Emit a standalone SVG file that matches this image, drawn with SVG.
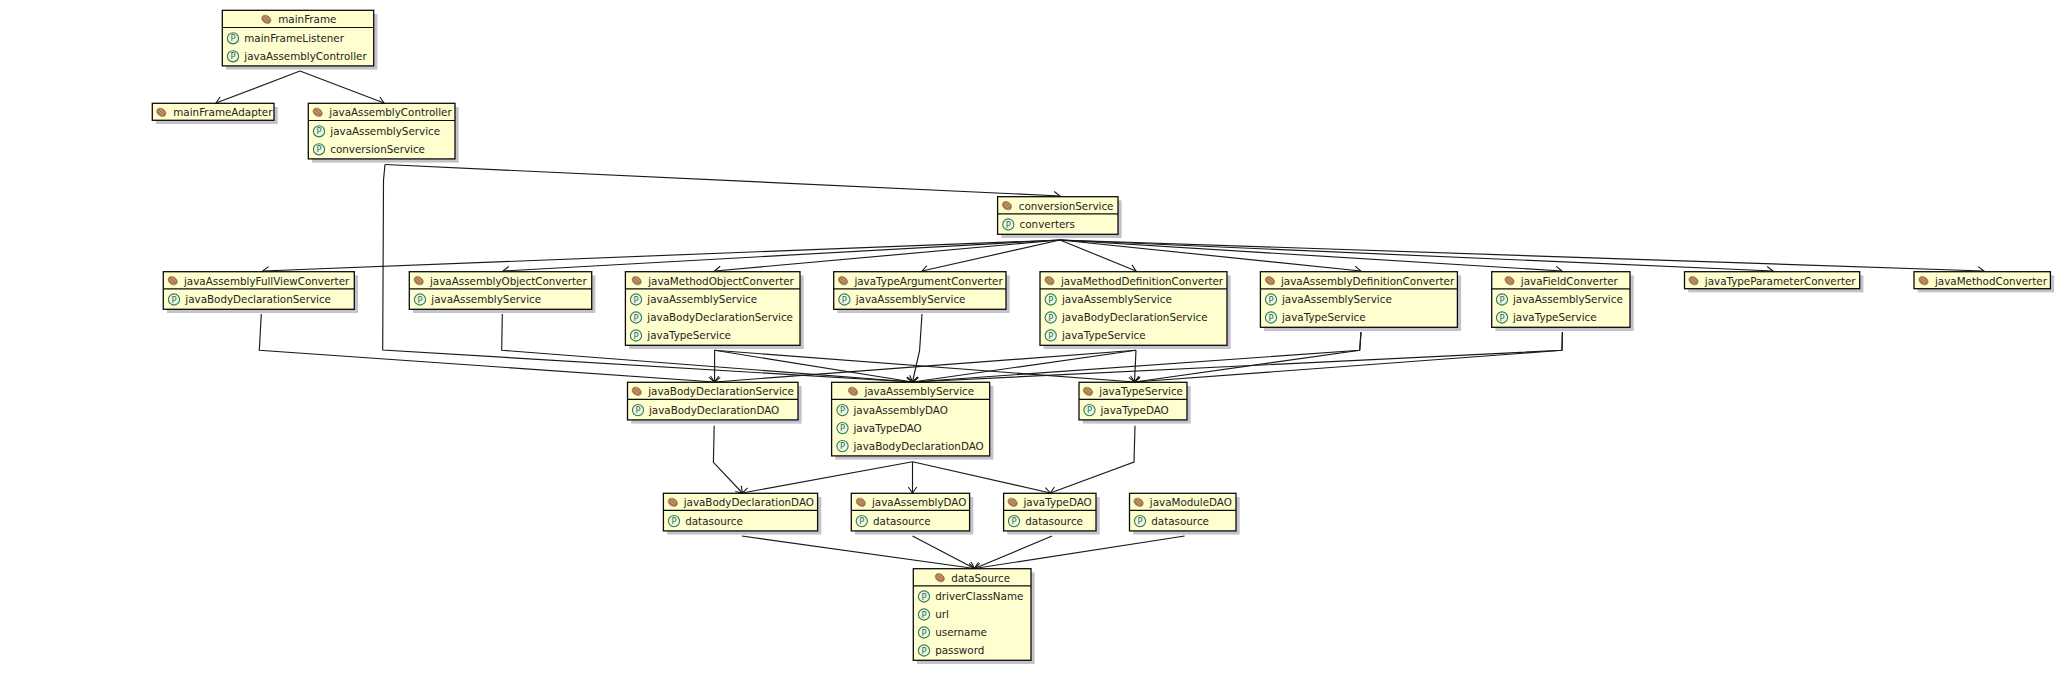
<svg xmlns="http://www.w3.org/2000/svg" width="2065" height="675" viewBox="0 0 2065 675">
<style>
text{font-family:"DejaVu Sans","Liberation Sans",sans-serif;font-size:10.35px;fill:#222}
.s{fill:#c4c2cb;stroke:none}
.b{fill:#fefece;stroke:#0c0c0c;stroke-width:1.3}
.h{stroke:#0c0c0c;stroke-width:1.2}
.c path{fill:none;stroke:#1a1a1a;stroke-width:1.15;marker-end:url(#a)}
.pt{font-size:8.4px;fill:#1f6f55}
</style>
<defs>
<marker id="a" markerUnits="userSpaceOnUse" markerWidth="14" markerHeight="14" refX="7" refY="7" orient="auto" overflow="visible"><path d="M1 2.8 L7 7 L1 11.2" fill="none" stroke="#1a1a1a" stroke-width="1.1"/></marker>
<g id="bn"><ellipse rx="5" ry="3.7" transform="rotate(35)" fill="#a9774c" stroke="#8e603a" stroke-width=".5"/><path d="M-3.2 -1.7L1.6 2.6M-1.4 -3.2L3.2 .9" stroke="#dcb892" stroke-width=".8" fill="none"/></g>
<g id="pi"><circle r="5.6" fill="#f2f6dc" stroke="#2a7a60" stroke-width="1.1"/><text class="pt" x="0" y="3" text-anchor="middle">P</text></g>
</defs>
<g id="connectors" class="c">
<path d="M300 71L216 103"/>
<path d="M300 71L384 103"/>
<path d="M385 164.5L1060 196"/>
<path d="M385 164.5L383.5 180L382.7 350L912.5 382"/>
<path d="M1060 240L262.7 271"/>
<path d="M1060 240L503 271"/>
<path d="M1060 240L714.6 271"/>
<path d="M1060 240L922 271"/>
<path d="M1060 240L1136 271"/>
<path d="M1060 240L1360.7 271"/>
<path d="M1060 240L1562 271"/>
<path d="M1060 240L1773 271"/>
<path d="M1060 240L1984 271"/>
<path d="M261.3 314L259.3 350.3L714.6 382"/>
<path d="M502.3 314L501.7 350.3L912.5 382"/>
<path d="M714.6 350.3L714.6 382"/>
<path d="M714.6 350.3L912.5 382"/>
<path d="M714.6 350.3L1134.5 382"/>
<path d="M922 314L919.6 350.3L912.5 382"/>
<path d="M1136 350.3L714.6 382"/>
<path d="M1136 350.3L912.5 382"/>
<path d="M1136 350.3L1134.5 382"/>
<path d="M1361 332L1359.7 350.3L912.5 382"/>
<path d="M1361 332L1359.7 350.3L1134.5 382"/>
<path d="M1562.4 332L1562 350.3L912.5 382"/>
<path d="M1562.4 332L1562 350.3L1134.5 382"/>
<path d="M714.2 425.7L713.4 462.3L742.4 493"/>
<path d="M912.5 461.7L742.4 493"/>
<path d="M912.5 461.7L912.5 493"/>
<path d="M912.5 461.7L1050.3 493"/>
<path d="M1135 425.7L1134 462L1050.3 493"/>
<path d="M741.8 536L974.5 568.5"/>
<path d="M912.5 536L974.5 568.5"/>
<path d="M1052 536L974.5 568.5"/>
<path d="M1184.6 536L974.5 568.5"/>
</g>
<g id="mainFrame"><rect class="s" x="226" y="14" width="151.4" height="55.6"/><rect class="b" x="222.3" y="10.3" width="151.4" height="55.6"/><line class="h" x1="222.3" y1="27.5" x2="373.7" y2="27.5"/><use href="#bn" x="266.3" y="19.3"/><text x="278.3" y="23.4">mainFrame</text><use href="#pi" x="233" y="38.3"/><text x="244.3" y="42.2">mainFrameListener</text><use href="#pi" x="233" y="56.3"/><text x="244.3" y="60.2">javaAssemblyController</text></g>
<g id="mainFrameAdapter"><rect class="s" x="156" y="107" width="121.7" height="17"/><rect class="b" x="152.3" y="103.3" width="121.7" height="17"/><use href="#bn" x="161.3" y="112.3"/><text x="173.3" y="116.3">mainFrameAdapter</text></g>
<g id="javaAssemblyController"><rect class="s" x="312" y="107" width="146.7" height="55.6"/><rect class="b" x="308.3" y="103.3" width="146.7" height="55.6"/><line class="h" x1="308.3" y1="120.5" x2="455" y2="120.5"/><use href="#bn" x="317.7" y="112.3"/><text x="329.3" y="116.3">javaAssemblyController</text><use href="#pi" x="319" y="131.3"/><text x="330.3" y="135.2">javaAssemblyService</text><use href="#pi" x="319" y="149.3"/><text x="330.3" y="153.2">conversionService</text></g>
<g id="conversionService"><rect class="s" x="1001.3" y="200.4" width="120.4" height="37.6"/><rect class="b" x="997.6" y="196.7" width="120.4" height="37.6"/><line class="h" x1="997.6" y1="213.8" x2="1118" y2="213.8"/><use href="#bn" x="1007" y="205.7"/><text x="1018.8" y="209.8">conversionService</text><use href="#pi" x="1008.3" y="224.5"/><text x="1019.6" y="228.4">converters</text></g>
<g id="javaAssemblyFullViewConverter"><rect class="s" x="167" y="275.4" width="191" height="37.6"/><rect class="b" x="163.3" y="271.7" width="191" height="37.6"/><line class="h" x1="163.3" y1="288.8" x2="354.3" y2="288.8"/><use href="#bn" x="172.7" y="280.7"/><text x="184" y="284.8">javaAssemblyFullViewConverter</text><use href="#pi" x="174" y="299.5"/><text x="185.3" y="303.4">javaBodyDeclarationService</text></g>
<g id="javaAssemblyObjectConverter"><rect class="s" x="413" y="275.4" width="182.4" height="37.6"/><rect class="b" x="409.3" y="271.7" width="182.4" height="37.6"/><line class="h" x1="409.3" y1="288.8" x2="591.7" y2="288.8"/><use href="#bn" x="418.7" y="280.7"/><text x="430" y="284.8">javaAssemblyObjectConverter</text><use href="#pi" x="420" y="299.5"/><text x="431.3" y="303.4">javaAssemblyService</text></g>
<g id="javaMethodObjectConverter"><rect class="s" x="629.1" y="275.4" width="174.6" height="73.6"/><rect class="b" x="625.4" y="271.7" width="174.6" height="73.6"/><line class="h" x1="625.4" y1="288.8" x2="800" y2="288.8"/><use href="#bn" x="636.7" y="280.7"/><text x="648.2" y="284.8">javaMethodObjectConverter</text><use href="#pi" x="636" y="299.5"/><text x="647.3" y="303.4">javaAssemblyService</text><use href="#pi" x="636" y="317.5"/><text x="647.3" y="321.4">javaBodyDeclarationService</text><use href="#pi" x="636" y="335.5"/><text x="647.3" y="339.4">javaTypeService</text></g>
<g id="javaTypeArgumentConverter"><rect class="s" x="837.4" y="275.4" width="172.3" height="37.6"/><rect class="b" x="833.7" y="271.7" width="172.3" height="37.6"/><line class="h" x1="833.7" y1="288.8" x2="1006" y2="288.8"/><use href="#bn" x="843" y="280.7"/><text x="854.4" y="284.8">javaTypeArgumentConverter</text><use href="#pi" x="844.4" y="299.5"/><text x="855.7" y="303.4">javaAssemblyService</text></g>
<g id="javaMethodDefinitionConverter"><rect class="s" x="1043.7" y="275.4" width="187" height="73.6"/><rect class="b" x="1040" y="271.7" width="187" height="73.6"/><line class="h" x1="1040" y1="288.8" x2="1227" y2="288.8"/><use href="#bn" x="1049.5" y="280.7"/><text x="1061" y="284.8">javaMethodDefinitionConverter</text><use href="#pi" x="1050.7" y="299.5"/><text x="1062" y="303.4">javaAssemblyService</text><use href="#pi" x="1050.7" y="317.5"/><text x="1062" y="321.4">javaBodyDeclarationService</text><use href="#pi" x="1050.7" y="335.5"/><text x="1062" y="339.4">javaTypeService</text></g>
<g id="javaAssemblyDefinitionConverter"><rect class="s" x="1264.1" y="275.4" width="197" height="55.6"/><rect class="b" x="1260.4" y="271.7" width="197" height="55.6"/><line class="h" x1="1260.4" y1="288.8" x2="1457.4" y2="288.8"/><use href="#bn" x="1270" y="280.7"/><text x="1281" y="284.8">javaAssemblyDefinitionConverter</text><use href="#pi" x="1271" y="299.5"/><text x="1282" y="303.4">javaAssemblyService</text><use href="#pi" x="1271" y="317.5"/><text x="1282" y="321.4">javaTypeService</text></g>
<g id="javaFieldConverter"><rect class="s" x="1495.4" y="275.4" width="138.3" height="55.6"/><rect class="b" x="1491.7" y="271.7" width="138.3" height="55.6"/><line class="h" x1="1491.7" y1="288.8" x2="1630" y2="288.8"/><use href="#bn" x="1509.5" y="280.7"/><text x="1520.8" y="284.8">javaFieldConverter</text><use href="#pi" x="1502" y="299.5"/><text x="1513" y="303.4">javaAssemblyService</text><use href="#pi" x="1502" y="317.5"/><text x="1513" y="321.4">javaTypeService</text></g>
<g id="javaTypeParameterConverter"><rect class="s" x="1688.2" y="275.4" width="175.2" height="17"/><rect class="b" x="1684.5" y="271.7" width="175.2" height="17"/><use href="#bn" x="1693.5" y="280.7"/><text x="1704.8" y="284.8">javaTypeParameterConverter</text></g>
<g id="javaMethodConverter"><rect class="s" x="1917.7" y="275.4" width="136.4" height="17"/><rect class="b" x="1914" y="271.7" width="136.4" height="17"/><use href="#bn" x="1923.5" y="280.7"/><text x="1935" y="284.8">javaMethodConverter</text></g>
<g id="javaBodyDeclarationService"><rect class="s" x="631.2" y="386" width="170.5" height="37.6"/><rect class="b" x="627.5" y="382.3" width="170.5" height="37.6"/><line class="h" x1="627.5" y1="399.4" x2="798" y2="399.4"/><use href="#bn" x="636.7" y="391.3"/><text x="648.2" y="395.4">javaBodyDeclarationService</text><use href="#pi" x="638" y="410.1"/><text x="649" y="414">javaBodyDeclarationDAO</text></g>
<g id="javaAssemblyService"><rect class="s" x="835.3" y="386" width="158.1" height="73.6"/><rect class="b" x="831.6" y="382.3" width="158.1" height="73.6"/><line class="h" x1="831.6" y1="399.4" x2="989.7" y2="399.4"/><use href="#bn" x="853" y="391.3"/><text x="864.4" y="395.4">javaAssemblyService</text><use href="#pi" x="842.5" y="410.1"/><text x="853.5" y="414">javaAssemblyDAO</text><use href="#pi" x="842.5" y="428.1"/><text x="853.5" y="432">javaTypeDAO</text><use href="#pi" x="842.5" y="446.1"/><text x="853.5" y="450">javaBodyDeclarationDAO</text></g>
<g id="javaTypeService"><rect class="s" x="1082.7" y="386" width="108" height="37.6"/><rect class="b" x="1079" y="382.3" width="108" height="37.6"/><line class="h" x1="1079" y1="399.4" x2="1187" y2="399.4"/><use href="#bn" x="1088" y="391.3"/><text x="1099.3" y="395.4">javaTypeService</text><use href="#pi" x="1089.5" y="410.1"/><text x="1100.5" y="414">javaTypeDAO</text></g>
<g id="javaBodyDeclarationDAO"><rect class="s" x="667.1" y="497" width="154.2" height="37.6"/><rect class="b" x="663.4" y="493.3" width="154.2" height="37.6"/><line class="h" x1="663.4" y1="510.4" x2="817.6" y2="510.4"/><use href="#bn" x="672.8" y="502.3"/><text x="683.7" y="506.4">javaBodyDeclarationDAO</text><use href="#pi" x="674" y="521.1"/><text x="685.2" y="525">datasource</text></g>
<g id="javaAssemblyDAO"><rect class="s" x="855" y="497" width="118.3" height="37.6"/><rect class="b" x="851.3" y="493.3" width="118.3" height="37.6"/><line class="h" x1="851.3" y1="510.4" x2="969.6" y2="510.4"/><use href="#bn" x="860.8" y="502.3"/><text x="872" y="506.4">javaAssemblyDAO</text><use href="#pi" x="861.8" y="521.1"/><text x="873" y="525">datasource</text></g>
<g id="javaTypeDAO"><rect class="s" x="1007.3" y="497" width="92.4" height="37.6"/><rect class="b" x="1003.6" y="493.3" width="92.4" height="37.6"/><line class="h" x1="1003.6" y1="510.4" x2="1096" y2="510.4"/><use href="#bn" x="1012.6" y="502.3"/><text x="1023.5" y="506.4">javaTypeDAO</text><use href="#pi" x="1014" y="521.1"/><text x="1025.3" y="525">datasource</text></g>
<g id="javaModuleDAO"><rect class="s" x="1133.2" y="497" width="106.5" height="37.6"/><rect class="b" x="1129.5" y="493.3" width="106.5" height="37.6"/><line class="h" x1="1129.5" y1="510.4" x2="1236" y2="510.4"/><use href="#bn" x="1138.6" y="502.3"/><text x="1149.8" y="506.4">javaModuleDAO</text><use href="#pi" x="1140" y="521.1"/><text x="1151.3" y="525">datasource</text></g>
<g id="dataSource"><rect class="s" x="917" y="572.4" width="117.7" height="91.6"/><rect class="b" x="913.3" y="568.7" width="117.7" height="91.6"/><line class="h" x1="913.3" y1="585.8" x2="1031" y2="585.8"/><use href="#bn" x="939.8" y="577.7"/><text x="951.2" y="581.8">dataSource</text><use href="#pi" x="924" y="596.5"/><text x="935.2" y="600.4">driverClassName</text><use href="#pi" x="924" y="614.5"/><text x="935.2" y="618.4">url</text><use href="#pi" x="924" y="632.5"/><text x="935.2" y="636.4">username</text><use href="#pi" x="924" y="650.5"/><text x="935.2" y="654.4">password</text></g>
</svg>
